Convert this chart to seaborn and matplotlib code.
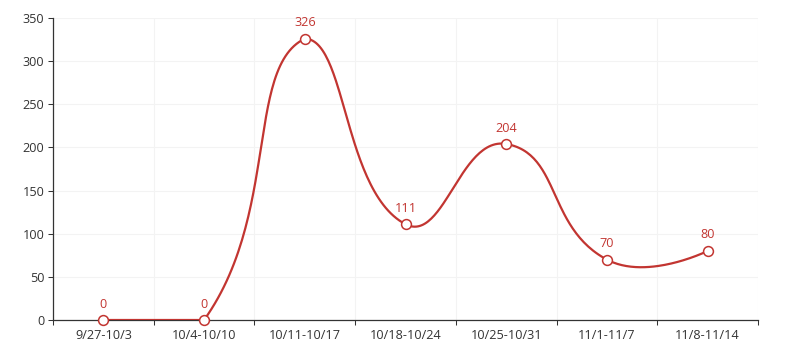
import numpy as np
import pandas as pd
import matplotlib
matplotlib.use("Agg")
import matplotlib.pyplot as plt
import seaborn as sns

weeks = ["9/27-10/3", "10/4-10/10", "10/11-10/17", "10/18-10/24",
         "10/25-10/31", "11/1-11/7", "11/8-11/14"]
counts = [0, 0, 326, 111, 204, 70, 80]
y_ticks = [0, 50, 100, 150, 200, 250, 300, 350]

RED = "#c23531"
AXIS = "#333333"
GRID = "#f3f3f3"
FS = 9.1

sns.set_theme(style="white")
plt.rcParams["font.family"] = ["Open Sans", "DejaVu Sans"]

W, H, DPI = 790, 350, 100
fig = plt.figure(figsize=(W / DPI, H / DPI), dpi=DPI)
left, right, top, bottom = 53, 758, 18, 320
ax = fig.add_axes([left / W, (H - bottom) / H, (right - left) / W, (bottom - top) / H])

xpos = np.arange(len(weeks))
ax.set_xlim(-0.5, len(weeks) - 0.5)
ax.set_ylim(y_ticks[0], y_ticks[-1])


def smooth_curve(ax, xs, ys, smooth=0.5, n=60):
    """Bezier smoothing in screen space, with control points clamped
    to the bounding box of the data points."""
    p = ax.transData.transform(np.column_stack([xs, ys]).astype(float))
    lo, hi = p.min(axis=0), p.max(axis=0)
    out = [p[0]]
    cp0 = p[0].copy()
    for i in range(1, len(p)):
        cur, prev = p[i], p[i - 1]
        if i + 1 < len(p):
            nxt = p[i + 1]
            v = nxt - prev
            d_prev = np.linalg.norm(cur - prev)
            d_next = np.linalg.norm(cur - nxt)
            r = d_next / (d_next + d_prev)
            cp1 = cur - v * smooth * (1 - r)
        else:
            v = None
            r = 0.5
            cp1 = cur.copy()
        cp0 = np.clip(cp0, lo, hi)
        cp1 = np.clip(cp1, lo, hi)
        t = np.linspace(0, 1, n)[1:, None]
        seg = ((1 - t) ** 3) * prev + 3 * ((1 - t) ** 2) * t * cp0 \
            + 3 * (1 - t) * t ** 2 * cp1 + t ** 3 * cur
        out.extend(seg)
        if v is not None:
            cp0 = cur + v * smooth * r
    out = np.array(out)
    return ax.transData.inverted().transform(out)


curve = smooth_curve(ax, xpos, counts)
curve_df = pd.DataFrame({"x": curve[:, 0], "y": curve[:, 1]})
sns.lineplot(data=curve_df, x="x", y="y", sort=False, estimator=None,
             color=RED, linewidth=1.6, ax=ax, zorder=3)

pts = pd.DataFrame({"x": xpos, "y": counts})
sns.scatterplot(data=pts, x="x", y="y", s=50, facecolor="white",
                edgecolor=RED, linewidth=1.1, ax=ax, zorder=4, clip_on=False)

for x, y in zip(xpos, counts):
    ax.annotate(str(y), (x, y), xytext=(0, 11.5), textcoords="offset points",
                ha="center", va="center", color=RED, fontsize=FS)

# axes, ticks and grid
ax.set_yticks(y_ticks)
ax.set_xticks(xpos)
ax.set_xticklabels(weeks)
ax.set_xticks(np.arange(-0.5, len(weeks)), minor=True)
ax.tick_params(axis="x", which="major", length=0, pad=6.5, labelsize=FS, labelcolor=AXIS)
ax.tick_params(axis="x", which="minor", length=3.6, width=0.75, color=AXIS, direction="out", bottom=True)
ax.tick_params(axis="y", which="major", length=3.6, width=0.75, color=AXIS, pad=2.5,
               labelsize=FS, labelcolor=AXIS, left=True)
ax.grid(False)
ax.grid(axis="y", which="major", color=GRID, linewidth=0.75)
ax.grid(axis="x", which="minor", color=GRID, linewidth=0.75)
ax.set_axisbelow(True)

for side in ("top", "right"):
    ax.spines[side].set_visible(False)
for side in ("left", "bottom"):
    ax.spines[side].set_color(AXIS)
    ax.spines[side].set_linewidth(0.9)

ax.set_xlabel("")
ax.set_ylabel("")
fig.savefig("out.png", dpi=DPI)
